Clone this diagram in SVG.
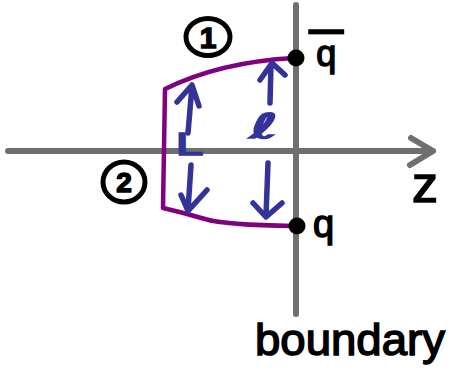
<svg xmlns="http://www.w3.org/2000/svg" width="452" height="378" viewBox="0 0 452 378">
  <style>
    .axis { fill: none; stroke: #6f6f6f; stroke-width: 6; stroke-linecap: round; stroke-linejoin: round; }
    .curve { fill: none; stroke: #800080; stroke-width: 4.5; stroke-linecap: round; stroke-linejoin: round; }
    .arrow { fill: none; stroke: #333399; stroke-width: 5.5; stroke-linecap: round; stroke-linejoin: round; }
    .dot { fill: #000; }
    .lbl { font-family: "Liberation Sans", "DejaVu Sans", sans-serif; fill: #000; stroke: #000; stroke-width: 1.5; }
    .blbl { font-family: "DejaVu Sans", "Liberation Sans", sans-serif; fill: #333399; stroke: #333399; stroke-width: 1.5; }
    .circ { fill: none; stroke: #000; stroke-width: 5; }
  </style>
  <rect width="452" height="378" fill="#fff"/>
  <g id="axes">
    <path class="axis" d="M8,151 L433,151 M411,138 L433,151 L410,165"/>
    <path class="axis" d="M296,5 L296,314"/>
  </g>
  <g id="connectors">
    <path id="path-curve" class="curve" d="M294,58 Q220,62 165,89 L163,208 Q185,213 205,219 Q225,225 294,226"/>
    <path id="arrow-ul" class="arrow" d="M188,133 L192,86 M177,102 L192,85 L199,106"/>
    <path id="arrow-ur" class="arrow" d="M270,103 L271,65 M260,80 L272,63 L285,75"/>
    <path id="arrow-ll" class="arrow" d="M191,165 L188,210 M181,195 L188,211 L207,190"/>
    <path id="arrow-lr" class="arrow" d="M268,163 L266,216 M253,203 L266,217 L282,203"/>
  </g>
  <g id="node-qbar">
    <circle class="dot" cx="296" cy="58" r="8.5"/>
    <text class="lbl" x="309" y="66" font-size="36" text-decoration="overline">&#8201;q&#8201;</text>
  </g>
  <g id="node-q">
    <circle class="dot" cx="297" cy="226" r="8.5"/>
    <text class="lbl" x="313" y="237" font-size="38">q</text>
  </g>
  <g id="label-1">
    <ellipse class="circ" cx="208" cy="37" rx="22" ry="18.5"/>
    <text class="lbl" x="208" y="48" font-size="30" font-weight="bold" text-anchor="middle">1</text>
  </g>
  <g id="label-2">
    <ellipse class="circ" cx="124" cy="182" rx="21" ry="20"/>
    <text class="lbl" x="124" y="192" font-size="28" font-weight="bold" text-anchor="middle">2</text>
  </g>
  <g id="label-L">
    <text class="blbl" x="175" y="155" font-size="30" textLength="27" lengthAdjust="spacingAndGlyphs">L</text>
  </g>
  <g id="label-ell">
    <text class="blbl" x="250" y="138" font-size="34" textLength="28" lengthAdjust="spacingAndGlyphs">ℓ</text>
  </g>
  <g id="label-z">
    <text class="lbl" x="412" y="202" font-size="52" stroke-width="2">z</text>
  </g>
  <g id="label-boundary">
    <text class="lbl" x="255" y="355" font-size="45" textLength="190" lengthAdjust="spacingAndGlyphs">boundary</text>
  </g>
</svg>
